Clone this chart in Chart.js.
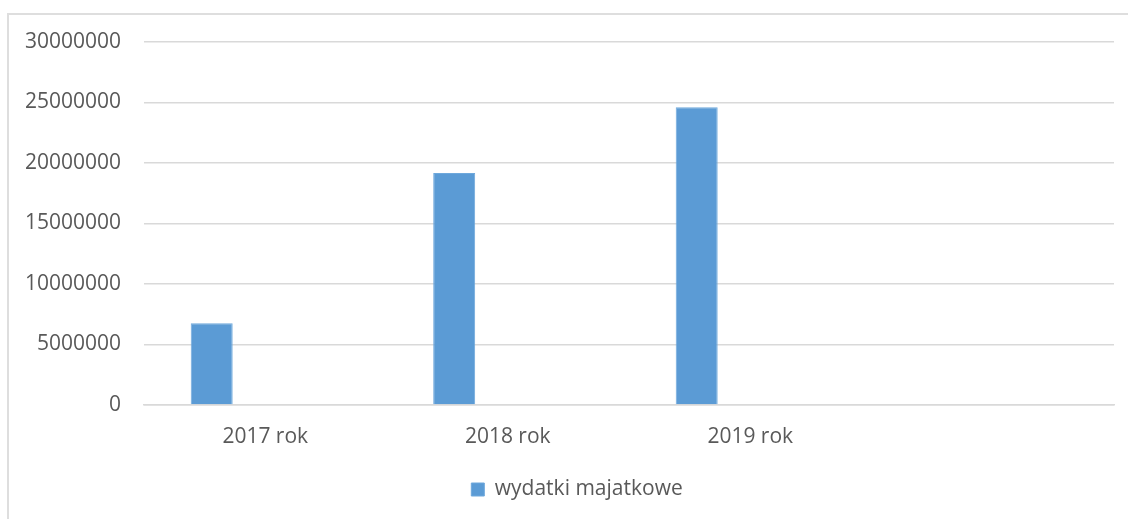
<!DOCTYPE html>
<html>
<head>
<meta charset="utf-8">
<script src="https://cdn.jsdelivr.net/npm/chart.js@4/dist/chart.umd.min.js"></script>
<style>
  html, body { margin: 0; padding: 0; background: #fff; overflow: hidden; }
  #ramka { position: absolute; left: 7px; top: 13px; width: 1300px; height: 700px; border: 2px solid #dedede; box-sizing: border-box; }
  #wrap { position: absolute; left: 0; top: 0; width: 1128px; height: 519px; }
</style>
</head>
<body>
<div id="ramka"></div>
<div id="wrap"><canvas id="wykres"></canvas></div>
<script>
// dane
const kategorie = ['2017 rok', '2018 rok', '2019 rok', ''];
const wydatkiMajatkowe = [6760000, 19170000, 24610000, null];
const seria2 = [];   // puste serie z arkusza (bez danych)
const seria3 = [];
const osY = { min: 0, max: 30000000, krok: 5000000 };

const szary = '#595959';
const czcionka = { family: "'Open Sans', 'Liberation Sans', sans-serif", size: 21 };

// legenda w Excelu jest wycentrowana wzgledem szerszego (przycietego) wykresu
const przesunLegende = {
    id: 'przesunLegende',
    afterLayout(chart) {
        const lg = chart.legend;
        if (lg) { lg.left += 20; lg.right += 20; }
    }
};

new Chart(document.getElementById('wykres'), {
    type: 'bar',
    data: {
        labels: kategorie,
        datasets: [
            { label: 'wydatki majatkowe', data: wydatkiMajatkowe, backgroundColor: '#5b9bd5', borderColor: '#6ea8dc', borderWidth: 1 },
            { label: 'seria2', data: seria2, backgroundColor: '#ed7d31' },
            { label: 'seria3', data: seria3, backgroundColor: '#a5a5a5' }
        ]
    },
    options: {
        responsive: true,
        maintainAspectRatio: false,
        animation: false,
        categoryPercentage: 0.6625,
        barPercentage: 0.784,
        layout: { padding: { top: 42, right: 14, bottom: 9, left: 0 } },
        plugins: {
            tooltip: { enabled: false },
            legend: {
                position: 'bottom',
                labels: {
                    color: szary,
                    font: czcionka,
                    boxWidth: 13,
                    boxHeight: 13,
                    padding: 10,
                    filter: item => item.datasetIndex === 0
                }
            }
        },
        scales: {
            x: {
                grid: { display: false, drawTicks: false },
                border: { display: true, color: '#d9d9d9', width: 1.5 },
                ticks: { color: szary, font: czcionka, padding: 19 },
                afterFit: s => { s.height = 64; }
            },
            y: {
                min: osY.min,
                max: osY.max,
                grid: { color: '#d9d9d9', lineWidth: 1.5, drawTicks: false },
                border: { display: false },
                ticks: {
                    stepSize: osY.krok,
                    color: szary,
                    font: czcionka,
                    padding: 23,
                    callback: v => String(v)
                },
                afterFit: s => { s.width = 144; }
            }
        }
    },
    plugins: [przesunLegende]
});
</script>
</body>
</html>
